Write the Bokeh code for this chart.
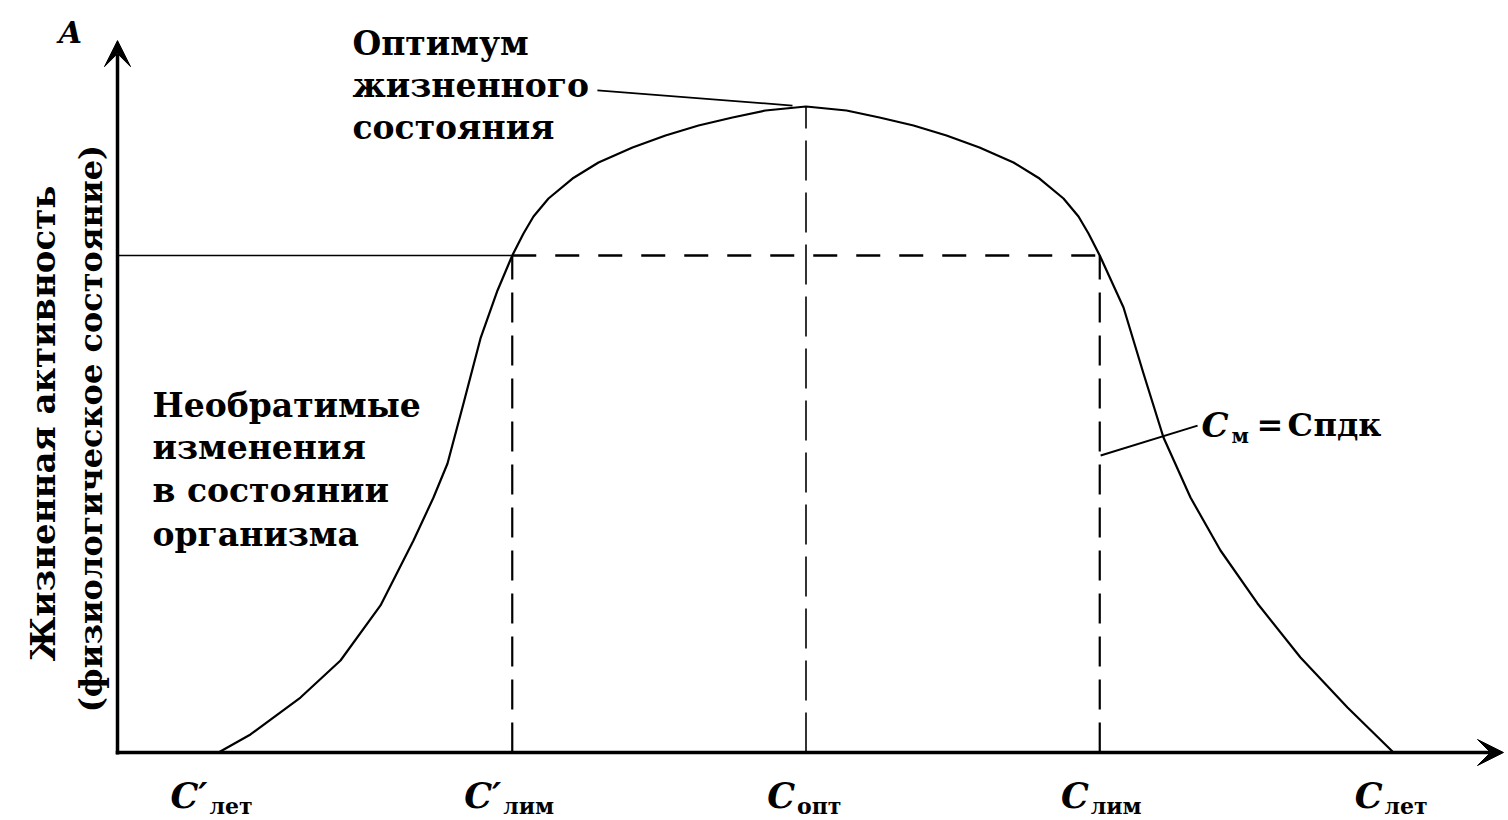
import math
from bokeh.plotting import figure
from bokeh.models import Range1d, Arrow, VeeHead
from bokeh.core.properties import value
from bokeh.embed import file_html
from bokeh.resources import INLINE

# ---------------- data ----------------
conc_pos = [0, 1, 2, 3, 4]
conc_main = ["C\u2032", "C\u2032", "C", "C", "C"]
conc_sub = ["лет", "лим", "опт", "лим", "лет"]

curve_x = [0.0, 0.1089, 0.2791, 0.4153, 0.5515, 0.6638, 0.7319, 0.7796, 0.8340, 0.8919, 0.9498,
           1.0, 1.0383, 1.0723, 1.1234, 1.2051, 1.2936, 1.4094, 1.5217, 1.6340, 1.7498, 1.8621,
           2.0,
           2.1379, 2.2502, 2.3660, 2.4783, 2.5906, 2.7064, 2.7949, 2.8766, 2.9277, 2.9617, 3.0,
           3.0809, 3.1489, 3.2170, 3.3089, 3.4111, 3.5370, 3.6834, 3.8434, 4.0]
curve_y = [0.0, 2.79, 8.51, 14.24, 22.76, 32.82, 39.47, 44.74, 54.03, 64.09, 71.52,
           76.93, 80.34, 82.97, 85.76, 88.85, 91.33, 93.65, 95.51, 97.06, 98.30, 99.38,
           100.0,
           99.38, 98.30, 97.06, 95.51, 93.65, 91.33, 88.85, 85.76, 82.97, 80.34, 76.93,
           68.89, 58.67, 48.76, 39.47, 31.27, 23.07, 14.71, 6.97, 0.0]

a_lim = 76.93     # activity level at C_lim
a_opt = 100.0     # optimum
x_lim_left, x_opt, x_lim_right = 1, 2, 3

opt_lines = ["Оптимум", "жизненного", "состояния"]
irrev_lines = ["Необратимые", "изменения", "в состоянии", "организма"]
ytitle_lines = ["Жизненная активность", "(физиологическое состояние)"]

# ---------------- figure ----------------
FONT = value("DejaVu Serif")
p = figure(width=1508, height=820,
           x_range=Range1d(-0.74213, 4.39149), y_range=Range1d(-10.5263, 116.409),
           x_axis_type=None, y_axis_type=None,
           output_backend="svg", toolbar_location=None,
           min_border=0, outline_line_color=None,
           background_fill_color="white", border_fill_color="white")

x_axis_pos = -0.3438

# guide lines
p.line([x_axis_pos, x_lim_left], [a_lim, a_lim], line_color="black", line_width=1.4)
p.line([x_lim_left, x_lim_right], [a_lim, a_lim], line_color="black", line_width=2.6,
       line_dash="24 19")
p.line([x_lim_left, x_lim_left], [0, a_lim], line_color="black", line_width=2.2,
       line_dash="30 13")
p.line([x_lim_right, x_lim_right], [0, a_lim], line_color="black", line_width=2.2,
       line_dash="30 13")
p.line([x_opt, x_opt], [0, a_opt], line_color="black", line_width=1.6,
       line_dash="40 12")

# curve
p.line(curve_x, curve_y, line_color="black", line_width=2.2, line_join="round")

# leader lines
p.line([1.290, 1.954], [102.5, 100.15], line_color="black", line_width=1.8)
p.line([3.003, 3.333], [45.98, 50.6], line_color="black", line_width=2.0)

# axes with arrows
p.add_layout(Arrow(end=VeeHead(size=26, fill_color="black", line_color="black", line_width=1),
                   x_start=x_axis_pos, y_start=-0.3, x_end=x_axis_pos, y_end=110.2,
                   line_color="black", line_width=3.5))
p.add_layout(Arrow(end=VeeHead(size=26, fill_color="black", line_color="black", line_width=1),
                   x_start=x_axis_pos - 0.006, y_start=0, x_end=4.3745, y_end=0,
                   line_color="black", line_width=3.5))

# axis letter A
p.text(x=[-0.5038], y=[111.46], text=["A"], text_font=FONT, text_font_style="bold italic",
       text_font_size="30px", text_align="center", text_baseline="middle", text_color="black")

# concentration labels
p.text(x=[c - 11 / 293.75 for c in conc_pos], y=[-6.65] * 5, text=conc_main, text_font=FONT,
       text_font_style="bold italic", text_font_size="35px", text_align="right",
       text_baseline="middle", text_color="black")
p.text(x=[c - 9 / 293.75 for c in conc_pos], y=[-8.3] * 5, text=conc_sub, text_font=FONT,
       text_font_style="bold", text_font_size="22px", text_align="left",
       text_baseline="middle", text_color="black")

# optimum text
p.text(x=[0.456] * 3, y=[109.75, 103.25, 96.75], text=opt_lines, text_font=FONT,
       text_font_style="bold", text_font_size="33px", text_align="left",
       text_baseline="middle", text_color="black")

# irreversible changes text
p.text(x=[-0.2247] * 4, y=[53.72, 47.21, 40.56, 33.75], text=irrev_lines, text_font=FONT,
       text_font_style="bold", text_font_size="33px", text_align="left",
       text_baseline="middle", text_color="black")

# y title (rotated)
p.text(x=[-0.5991], y=[50.93], text=ytitle_lines[:1], angle=math.pi / 2,
       text_font=FONT, text_font_style="bold", text_font_size="34px", text_align="center",
       text_baseline="middle", text_color="black")
p.text(x=[-0.4357], y=[50.15], text=ytitle_lines[1:], angle=math.pi / 2,
       text_font=FONT, text_font_style="bold", text_font_size="32px", text_align="center",
       text_baseline="middle", text_color="black")

# C_м = C_ПДК label
p.text(x=[3.3464], y=[50.77], text=["C"], text_font=FONT, text_font_style="bold italic",
       text_font_size="34px", text_align="left", text_baseline="middle", text_color="black")
p.text(x=[3.4485], y=[49.07], text=["м"], text_font=FONT, text_font_style="bold",
       text_font_size="20px", text_align="left", text_baseline="middle", text_color="black")
p.text(x=[3.5336, 3.6391, 3.7277], y=[50.62] * 3, text=["=", "C", "пдк"], text_font=FONT,
       text_font_style="bold", text_font_size="32px", text_align="left", text_baseline="middle",
       text_color="black")

open("out.html", "w").write(file_html(p, INLINE))
